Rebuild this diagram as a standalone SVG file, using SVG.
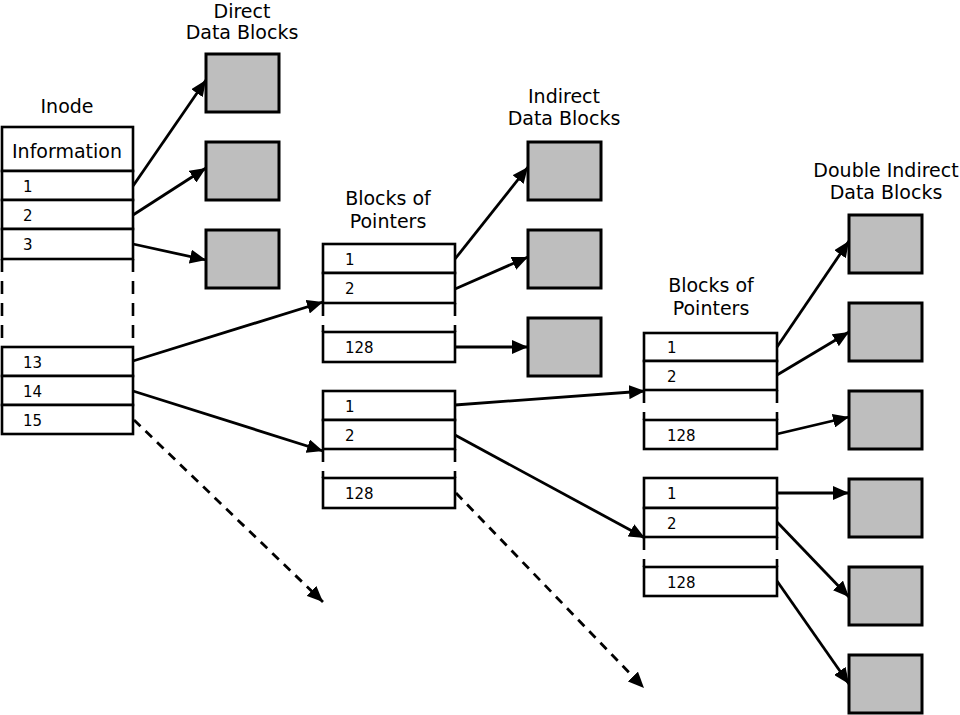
<svg xmlns="http://www.w3.org/2000/svg" width="960" height="715" viewBox="0 0 960 715">
<style>
  .lbl { font-family: "DejaVu Sans", "Liberation Sans", sans-serif; font-size: 19px; fill: #000; text-anchor: middle; }
  .num { font-family: "DejaVu Sans", "Liberation Sans", sans-serif; font-size: 15px; fill: #000; }
  .row { fill: #fff; stroke: #000; stroke-width: 2.6; }
  .gap { fill: none; stroke: #000; stroke-width: 2.6; stroke-dasharray: 13 9; }
  .data { fill: #bebebe; stroke: #000; stroke-width: 3; }
  .con { fill: none; stroke: #000; stroke-width: 2.8; marker-end: url(#ah); }
  .dash { stroke-dasharray: 9 7; }
</style>
<defs>
  <marker id="ah" markerUnits="userSpaceOnUse" markerWidth="17" markerHeight="14" refX="16" refY="7" orient="auto">
    <path d="M0,0 L16,7 L0,14 z" fill="#000"/>
  </marker>
</defs>
<rect width="960" height="715" fill="#fff"/>

<!-- Labels -->
<g id="labels">
  <text class="lbl" x="242" y="18">Direct</text>
  <text class="lbl" x="242" y="39">Data Blocks</text>
  <text class="lbl" x="67" y="113">Inode</text>
  <text class="lbl" x="564" y="103">Indirect</text>
  <text class="lbl" x="564" y="125">Data Blocks</text>
  <text class="lbl" x="388" y="205">Blocks of</text>
  <text class="lbl" x="388" y="228">Pointers</text>
  <text class="lbl" x="886" y="177">Double Indirect</text>
  <text class="lbl" x="886" y="199">Data Blocks</text>
  <text class="lbl" x="711" y="292">Blocks of</text>
  <text class="lbl" x="711" y="315">Pointers</text>
</g>

<!-- Inode -->
<g id="inode">
  <rect class="row" x="2" y="127" width="131" height="44"/>
  <text class="lbl" x="67" y="158">Information</text>
  <rect class="row" x="2" y="171" width="131" height="29"/>
  <text class="num" x="23" y="192">1</text>
  <rect class="row" x="2" y="200" width="131" height="29"/>
  <text class="num" x="23" y="221">2</text>
  <rect class="row" x="2" y="229" width="131" height="30"/>
  <text class="num" x="23" y="250">3</text>
  <path class="gap" d="M2,259 V347 M133,259 V347"/>
  <rect class="row" x="2" y="347" width="131" height="29"/>
  <text class="num" x="23" y="368">13</text>
  <rect class="row" x="2" y="376" width="131" height="29"/>
  <text class="num" x="23" y="397">14</text>
  <rect class="row" x="2" y="405" width="131" height="29"/>
  <text class="num" x="23" y="426">15</text>
</g>

<!-- Direct data blocks -->
<g id="direct-blocks">
  <rect class="data" x="206" y="54" width="73" height="58"/>
  <rect class="data" x="206" y="142" width="73" height="58"/>
  <rect class="data" x="206" y="230" width="73" height="58"/>
</g>

<!-- Middle pointer block 1 -->
<g id="pointers-1">
  <rect class="row" x="323" y="244" width="132" height="29"/>
  <text class="num" x="345" y="265">1</text>
  <rect class="row" x="323" y="273" width="132" height="30"/>
  <text class="num" x="345" y="294">2</text>
  <path class="gap" d="M323,303 V332 M455,303 V332"/>
  <rect class="row" x="323" y="332" width="132" height="30"/>
  <text class="num" x="345" y="353">128</text>
</g>

<!-- Middle pointer block 2 -->
<g id="pointers-2">
  <rect class="row" x="323" y="391" width="132" height="29"/>
  <text class="num" x="345" y="412">1</text>
  <rect class="row" x="323" y="420" width="132" height="29"/>
  <text class="num" x="345" y="441">2</text>
  <path class="gap" d="M323,449 V478 M455,449 V478"/>
  <rect class="row" x="323" y="478" width="132" height="30"/>
  <text class="num" x="345" y="499">128</text>
</g>

<!-- Indirect data blocks -->
<g id="indirect-blocks">
  <rect class="data" x="528" y="142" width="73" height="58"/>
  <rect class="data" x="528" y="230" width="73" height="58"/>
  <rect class="data" x="528" y="318" width="73" height="58"/>
</g>

<!-- Third column pointer block A -->
<g id="pointers-3">
  <rect class="row" x="644" y="333" width="133" height="28"/>
  <text class="num" x="667" y="353">1</text>
  <rect class="row" x="644" y="361" width="133" height="29"/>
  <text class="num" x="667" y="382">2</text>
  <path class="gap" d="M644,390 V420 M777,390 V420"/>
  <rect class="row" x="644" y="420" width="133" height="29"/>
  <text class="num" x="667" y="441">128</text>
</g>

<!-- Third column pointer block B -->
<g id="pointers-4">
  <rect class="row" x="644" y="478" width="133" height="30"/>
  <text class="num" x="667" y="499">1</text>
  <rect class="row" x="644" y="508" width="133" height="29"/>
  <text class="num" x="667" y="529">2</text>
  <path class="gap" d="M644,537 V567 M777,537 V567"/>
  <rect class="row" x="644" y="567" width="133" height="29"/>
  <text class="num" x="667" y="588">128</text>
</g>

<!-- Double indirect data blocks -->
<g id="double-indirect-blocks">
  <rect class="data" x="849" y="215" width="73" height="58"/>
  <rect class="data" x="849" y="303" width="73" height="58"/>
  <rect class="data" x="849" y="391" width="73" height="58"/>
  <rect class="data" x="849" y="479" width="73" height="58"/>
  <rect class="data" x="849" y="567" width="73" height="58"/>
  <rect class="data" x="849" y="655" width="73" height="58"/>
</g>

<!-- Connectors -->
<g id="connectors">
  <path class="con" d="M133,186 L206,80"/>
  <path class="con" d="M133,215 L206,168"/>
  <path class="con" d="M133,244 L206,260"/>
  <path class="con" d="M133,361 L323,302"/>
  <path class="con" d="M133,391 L323,451"/>
  <path class="con dash" d="M134,420 L323,602"/>

  <path class="con" d="M455,259 L528,167"/>
  <path class="con" d="M455,289 L528,257"/>
  <path class="con" d="M455,347 L528,347"/>
  <path class="con" d="M455,405 L645,391"/>
  <path class="con" d="M455,435 L645,538"/>
  <path class="con dash" d="M456,493 L644,688"/>

  <path class="con" d="M777,347 L849,241"/>
  <path class="con" d="M777,375 L849,332"/>
  <path class="con" d="M777,434 L849,417"/>
  <path class="con" d="M777,493 L849,493"/>
  <path class="con" d="M777,522 L849,597"/>
  <path class="con" d="M777,581 L849,684"/>
</g>
</svg>
